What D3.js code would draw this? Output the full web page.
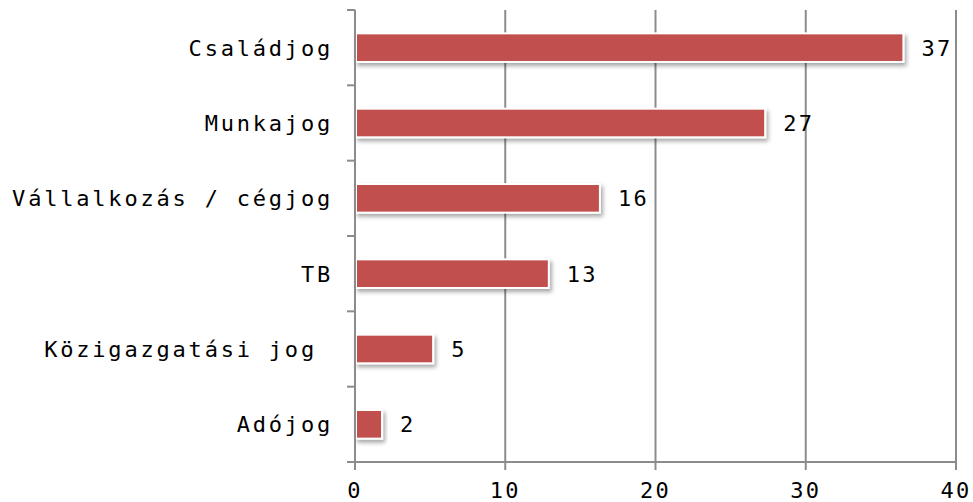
<!DOCTYPE html>
<html>
<head>
<meta charset="utf-8">
<script src="https://cdn.jsdelivr.net/npm/d3@7"></script>
<style>
body { margin: 0; background: #fff; }
svg text { font-family: "DejaVu Sans Mono", monospace; fill: #000; white-space: pre; }
</style>
</head>
<body>
<svg id="chart"></svg>
<script>
var categories = ["Családjog", "Munkajog", "Vállalkozás / cégjog", "TB", "Közigazgatási jog ", "Adójog"];
var values = [36.5, 27.3, 16.3, 12.9, 5.2, 1.8];
var xTicks = [0, 10, 20, 30, 40];

var screen = {width: 973, height: 502};
var margins = {top: 10, right: 17, bottom: 40, left: 355};
var width = screen.width - margins.left - margins.right;
var height = screen.height - margins.top - margins.bottom;

var svg = d3.select("#chart")
    .attr("width", screen.width)
    .attr("height", screen.height);

var defs = svg.append("defs");
var shadow = defs.append("filter").attr("id", "shadow")
    .attr("x", "-10%").attr("y", "-30%").attr("width", "130%").attr("height", "180%");
shadow.append("feDropShadow")
    .attr("dx", 2).attr("dy", 3).attr("stdDeviation", 2)
    .attr("flood-color", "#000").attr("flood-opacity", 0.35);

var xScale = d3.scaleLinear().domain([0, 40]).range([0, width]);
var yScale = d3.scaleBand().domain(categories).range([0, height]).paddingInner(0.62).paddingOuter(0.31);
var bandScale = d3.scaleBand().domain(categories).range([0, height]);

var g = svg.append("g").attr("transform", "translate(" + margins.left + "," + margins.top + ")");

// gridlines
g.selectAll(".grid")
    .data(xTicks.slice(1))
    .enter().append("line")
    .attr("x1", function(d) { return xScale(d); })
    .attr("x2", function(d) { return xScale(d); })
    .attr("y1", 0).attr("y2", height)
    .attr("stroke", "#8c8c8c").attr("stroke-width", 2);

// bars
var data = categories.map(function(c, i) { return {cat: c, val: values[i]}; });

g.selectAll(".bar")
    .data(data)
    .enter().append("rect")
    .attr("x", 1)
    .attr("y", function(d) { return yScale(d.cat); })
    .attr("width", function(d) { return xScale(d.val) - 1; })
    .attr("height", yScale.bandwidth())
    .attr("fill", "#C0504D")
    .attr("stroke", "#fff").attr("stroke-width", 2)
    .attr("filter", "url(#shadow)");

g.selectAll(".val")
    .data(data)
    .enter().append("text")
    .attr("x", function(d) { return xScale(d.val) + 18; })
    .attr("y", function(d) { return yScale(d.cat) + yScale.bandwidth() / 2; })
    .attr("dy", "0.36em")
    .style("font-size", "22px")
    .style("letter-spacing", "2.3px")
    .text(function(d) { return Math.round(d.val); });

// y axis
var yAxis = g.append("g");
yAxis.append("line")
    .attr("x1", 0).attr("x2", 0).attr("y1", 0).attr("y2", height)
    .attr("stroke", "#8c8c8c").attr("stroke-width", 2);
var bounds = categories.map(function(c) { return bandScale(c); }).concat([height]);
yAxis.selectAll(".ytick")
    .data(bounds)
    .enter().append("line")
    .attr("x1", -8).attr("x2", 0)
    .attr("y1", function(d) { return d; }).attr("y2", function(d) { return d; })
    .attr("stroke", "#8c8c8c").attr("stroke-width", 2);
yAxis.selectAll(".ylab")
    .data(categories)
    .enter().append("text")
    .attr("x", -22)
    .attr("y", function(d) { return bandScale(d) + bandScale.bandwidth() / 2; })
    .attr("dy", "0.36em")
    .attr("text-anchor", "end")
    .style("font-size", "22px")
    .style("letter-spacing", "2.8px")
    .text(function(d) { return d; });

// x axis
var xAxis = g.append("g").attr("transform", "translate(0," + height + ")");
xAxis.append("line")
    .attr("x1", -8).attr("x2", width).attr("y1", 0).attr("y2", 0)
    .attr("stroke", "#8c8c8c").attr("stroke-width", 2);
xAxis.selectAll(".xtick")
    .data(xTicks)
    .enter().append("line")
    .attr("x1", function(d) { return xScale(d); })
    .attr("x2", function(d) { return xScale(d); })
    .attr("y1", 0).attr("y2", 8)
    .attr("stroke", "#8c8c8c").attr("stroke-width", 2);
xAxis.selectAll(".xlab")
    .data(xTicks)
    .enter().append("text")
    .attr("x", function(d) { return xScale(d); })
    .attr("y", 28)
    .attr("dy", "0.36em")
    .attr("text-anchor", "middle")
    .style("font-size", "22px")
    .style("letter-spacing", "2.3px")
    .text(function(d) { return d; });
</script>
</body>
</html>
